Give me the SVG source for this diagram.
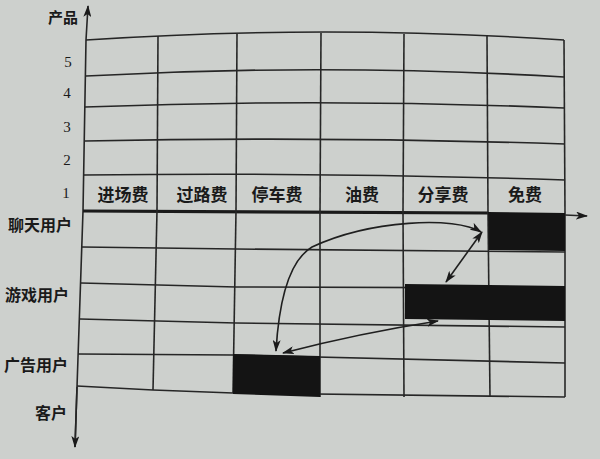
<svg xmlns="http://www.w3.org/2000/svg" width="600" height="459" viewBox="0 0 600 459">
<defs>
<marker id="ah" viewBox="0 0 12 8" refX="11" refY="4" markerWidth="12" markerHeight="8" markerUnits="userSpaceOnUse" orient="auto-start-reverse">
<path d="M0,0 L12,4 L0,8 L3,4 Z" fill="#1a1a1a"/>
</marker>
<style>
.g{fill:none;stroke:#262626;stroke-width:1.6}
.thick{fill:none;stroke:#1a1a1a;stroke-width:3.2}
.ax{fill:none;stroke:#262626;stroke-width:1.6}
.blk{fill:#141414}
.con{fill:none;stroke:#1f1f1f;stroke-width:1.6}
.cj{font-family:"Noto Sans CJK SC","Noto Sans",sans-serif;font-weight:bold;fill:#1a1a1a}
.num{font-family:"Liberation Serif",serif;font-size:15px;fill:#1a1a1a;text-anchor:middle}
</style>
</defs>
<rect width="600" height="459" fill="#cdd0cd"/>

<g id="axes">
<polyline class="ax" points="75,447 77,387 83,211 86,40 88,6" marker-end="url(#ah)"/>
<polyline class="ax" points="77,387 75,447" marker-end="url(#ah)"/>
<path class="ax" d="M565,215 L587,216" marker-end="url(#ah)"/>
</g>

<g id="grid">
<path class="g" d="M86,40 Q326,24 564,40"/>
<path class="g" d="M86,76 Q326,63 564,77"/>
<path class="g" d="M85,107 Q326,98 564,108"/>
<path class="g" d="M85,141 Q326,136 565,144"/>
<path class="g" d="M84,175 Q326,172 565,180"/>
<path class="thick" d="M83,211 L488,213"/>
<path class="g" d="M158,36 L157,211"/>
<path class="g" d="M237,34 L236,211"/>
<path class="g" d="M321,33 L320,212"/>
<path class="g" d="M404,34 L403,212"/>
<path class="g" d="M487,36 L488,213"/>
<path class="g" d="M564,40 L565,214"/>
<path class="g" d="M82,247 L236,249 L565,252"/>
<path class="g" d="M81,283 L236,287 L565,288"/>
<path class="g" d="M80,319 L236,323 L565,327"/>
<path class="g" d="M78,354 L233,355 L565,363"/>
<path class="g" d="M77,386 L153,390 L233,393 L565,397"/>
<path class="g" d="M157,211 L153,390"/>
<path class="g" d="M236,211 L233,393"/>
<path class="g" d="M320,212 L320,397"/>
<path class="g" d="M403,212 L404,397"/>
<path class="g" d="M488,213 L490,397"/>
<path class="g" d="M565,214 L565,397"/>
</g>

<g id="block-free-chat">
<polygon class="blk" points="488,212 565,213 565,251 489,250"/>
</g>
<g id="block-game">
<polygon class="blk" points="405,284 565,286 565,321 405,319"/>
</g>
<g id="block-ad">
<polygon class="blk" points="233,354 320,356 320,397 233,394"/>
</g>

<g id="connectors">
<path class="con" d="M481,232 C455,216 370,220 312,247 C290,260 279,300 276,351" marker-start="url(#ah)" marker-end="url(#ah)"/>
<path class="con" d="M482,232 L446,282" marker-start="url(#ah)" marker-end="url(#ah)"/>
<path class="con" d="M438,321 Q360,333 283,353" marker-start="url(#ah)" marker-end="url(#ah)"/>
</g>

<g id="labels">
<text class="cj" x="63" y="23" font-size="15" text-anchor="middle">产品</text>
<text class="num" x="68" y="67">5</text>
<text class="num" x="67" y="98">4</text>
<text class="num" x="67" y="132">3</text>
<text class="num" x="67" y="165">2</text>
<text class="num" x="66" y="198">1</text>
<text class="cj" x="123" y="201" font-size="17" text-anchor="middle">进场费</text>
<text class="cj" x="202" y="201" font-size="17" text-anchor="middle">过路费</text>
<text class="cj" x="277" y="201" font-size="17" text-anchor="middle">停车费</text>
<text class="cj" x="362" y="201" font-size="17" text-anchor="middle">油费</text>
<text class="cj" x="443" y="201" font-size="17" text-anchor="middle">分享费</text>
<text class="cj" x="525" y="201" font-size="17" text-anchor="middle">免费</text>
<text class="cj" x="72" y="231" font-size="16" text-anchor="end">聊天用户</text>
<text class="cj" x="69" y="301" font-size="16" text-anchor="end">游戏用户</text>
<text class="cj" x="68" y="371" font-size="16" text-anchor="end">广告用户</text>
<text class="cj" x="67" y="419" font-size="16" text-anchor="end">客户</text>
</g>
</svg>
